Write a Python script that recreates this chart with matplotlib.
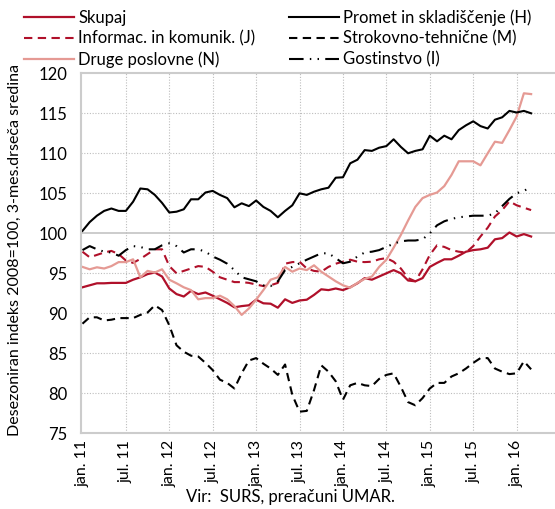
import matplotlib
matplotlib.use("Agg")
import matplotlib.pyplot as plt

plt.rcParams['font.family'] = ['Lato', 'DejaVu Sans']

tick_labels = ["jan. 11", "jul. 11", "jan. 12", "jul. 12", "jan. 13", "jul. 13",
               "jan. 14", "jul. 14", "jan. 15", "jul. 15", "jan. 16"]
tick_pos = [0, 6, 12, 18, 24, 30, 36, 42, 48, 54, 60]

skupaj = [93.25, 93.5, 93.75, 93.75, 93.8, 93.8, 93.8, 94.2, 94.5, 94.9, 95.1, 94.6,
          93.1, 92.4, 92.1, 92.8, 92.4, 92.6, 92.2, 91.75, 91.3, 90.75, 90.9, 91.0,
          91.7, 91.25, 91.2, 90.7, 91.75, 91.3, 91.6, 91.7, 92.3, 93.0, 92.9, 93.1,
          92.9, 93.25, 93.75, 94.4, 94.2, 94.6, 95.0, 95.4, 95.0, 94.1, 94.0, 94.4,
          95.8, 96.3, 96.75, 96.75, 97.2, 97.7, 97.9, 98.0, 98.2, 99.25, 99.4, 100.1,
          99.6, 99.9, 99.6]
informac = [97.7, 97.0, 97.3, 97.6, 97.8, 97.4, 96.6, 96.3, 96.8, 97.4, 98.0, 98.0,
            95.9, 95.0, 95.3, 95.6, 95.9, 95.8, 95.2, 94.5, 94.2, 93.9, 93.9, 93.8,
            93.6, 93.4, 93.5, 93.8, 96.2, 96.4, 96.45, 95.6, 95.3, 95.2, 95.8, 96.2,
            96.45, 96.7, 96.45, 96.4, 96.45, 96.75, 96.9, 96.45, 95.6, 94.4, 94.0, 95.5,
            97.3, 98.5, 98.3, 97.9, 97.7, 97.6, 98.4, 99.6, 100.7, 102.1, 102.9, 104.0,
            103.5, 103.2, 102.9]
druge = [95.8, 95.5, 95.75, 95.6, 95.9, 96.4, 96.4, 96.75, 94.5, 95.3, 95.1, 95.5,
         94.2, 93.75, 93.25, 92.9, 91.75, 91.9, 91.9, 92.2, 91.75, 90.9, 89.8, 90.6,
         91.7, 92.9, 94.2, 94.5, 95.8, 95.2, 95.6, 95.4, 96.0, 95.2, 94.6, 94.0,
         93.5, 93.2, 93.8, 94.3, 94.6, 95.8, 96.7, 98.2, 99.8, 101.6, 103.3, 104.4,
         104.8, 105.1, 105.9, 107.3, 109.0, 109.0, 109.0, 108.5, 110.0, 111.45, 111.3, 112.9,
         114.6, 117.5, 117.4]
promet = [100.3, 101.4, 102.2, 102.8, 103.1, 102.8, 102.8, 103.95, 105.6, 105.5, 104.8, 103.8,
          102.6, 102.7, 103.0, 104.25, 104.25, 105.1, 105.3, 104.8, 104.4, 103.25, 103.75, 103.4,
          104.1, 103.3, 102.8, 102.0, 102.8, 103.5, 105.0, 104.8, 105.2, 105.5, 105.7, 106.95,
          107.0, 108.75, 109.2, 110.4, 110.3, 110.7, 110.9, 111.75, 110.8, 110.0, 110.3, 110.5,
          112.2, 111.5, 112.2, 111.75, 112.9, 113.5, 114.0, 113.4, 113.1, 114.2, 114.5, 115.3,
          115.1, 115.3, 115.0]
strokovno = [88.7, 89.5, 89.5, 89.1, 89.2, 89.4, 89.4, 89.4, 89.8, 90.1, 91.0, 90.4,
             88.5, 86.0, 85.2, 84.7, 84.6, 83.8, 82.9, 81.7, 81.3, 80.6, 82.5, 84.1,
             84.4, 83.7, 83.1, 82.3, 83.6, 79.8, 77.7, 77.8, 80.4, 83.5, 82.7, 81.5,
             79.2, 81.0, 81.3, 81.0, 80.9, 81.8, 82.3, 82.5, 80.8, 78.9, 78.5, 79.4,
             80.6, 81.3, 81.3, 82.1, 82.5, 83.1, 83.8, 84.4, 84.4, 83.1, 82.7, 82.4,
             82.5, 84.0, 83.0]
gostinstvo = [97.9, 98.4, 98.0, 97.7, 97.6, 97.2, 97.9, 98.4, 98.3, 98.0, 98.0, 98.5,
              98.75, 98.4, 97.6, 98.0, 98.0, 97.7, 97.1, 96.7, 96.2, 95.4, 94.5, 94.25,
              94.0, 93.5, 93.4, 94.0, 95.4, 95.8, 96.25, 96.7, 97.1, 97.5, 97.5, 96.9,
              96.25, 96.45, 97.1, 97.6, 97.7, 97.9, 98.3, 98.7, 99.0, 99.1, 99.1, 99.25,
              100.0, 101.0, 101.5, 101.8, 102.0, 102.1, 102.2, 102.2, 102.2, 102.5, 103.4, 104.3,
              105.0, 105.3, 105.8]

x = list(range(len(skupaj)))

W, H = 555, 509
fig = plt.figure(figsize=(W / 100, H / 100), dpi=100)
ax = fig.add_axes([81 / W, 1 - 433.3 / H, 474 / W, 360 / H])

red = '#b0102a'
pink = '#e59a94'

l1, = ax.plot(x, skupaj, color=red, lw=1.6, label='Skupaj')
l2, = ax.plot(x, informac, color=red, lw=1.5, dashes=(4, 2.6), label='Informac. in komunik. (J)')
l3, = ax.plot(x, druge, color=pink, lw=1.6, label='Druge poslovne (N)')
l4, = ax.plot(x, promet, color='black', lw=1.5, label='Promet in skladiščenje (H)')
l5, = ax.plot(x, strokovno, color='black', lw=1.5, dashes=(4, 2.6), label='Strokovno-tehnične (M)')
l6, = ax.plot(x, gostinstvo, color='black', lw=1.5, dashes=(7, 3, 0.7, 3, 0.7, 3),
              label='Gostinstvo (I)')

ax.set_xlim(-0.2, 65.3)
ax.set_ylim(75, 120)
ax.set_yticks(range(75, 121, 5))
ax.set_xticks(tick_pos)
ax.set_xticklabels(tick_labels, rotation=90, fontsize=11.5)
ax.tick_params(axis='y', labelsize=12, length=0, pad=10)
ax.tick_params(axis='x', length=0, pad=5)

grid_c = '#bdbdbd'
for yv in range(80, 120, 5):
    if yv == 100:
        ax.axhline(yv, color='#c8c8c8', lw=1.3, zorder=0)
    else:
        ax.axhline(yv, color=grid_c, lw=0.8, ls=(0, (1, 1.5)), zorder=0)
for xv in tick_pos[1:]:
    ax.axvline(xv, color=grid_c, lw=0.8, ls=(0, (1, 1.5)), zorder=0)

for s in ['left', 'bottom', 'top']:
    ax.spines[s].set_color('#cccccc')
    ax.spines[s].set_linewidth(1.5)
ax.spines['right'].set_visible(False)

fig.text(15 / W, 1 - 250 / H, 'Desezoniran indeks 2008=100, 3-mes.drseča sredina',
         rotation=90, ha='center', va='center', fontsize=11.5)
fig.text(290 / W, 1 - 497 / H, 'Vir:  SURS, preračuni UMAR.', ha='center', va='center',
         fontsize=12)

leg = fig.legend(handles=[l1, l2, l3, l4, l5, l6], ncol=2, loc='upper left',
                 bbox_to_anchor=(24 / W, 1 - 9 / H), frameon=False, fontsize=12,
                 handlelength=3.0, handletextpad=0.25, labelspacing=0.3,
                 columnspacing=2.0, borderaxespad=0, borderpad=0)

fig.savefig('out.png', dpi=100)
